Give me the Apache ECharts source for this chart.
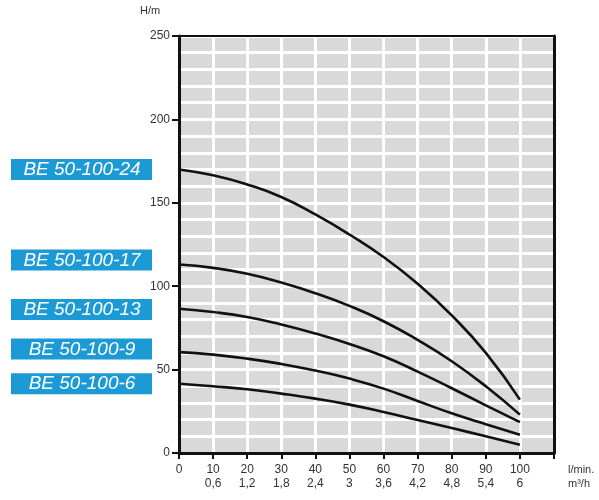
<!DOCTYPE html>
<html>
<head>
<meta charset="utf-8">
<script src="https://cdn.jsdelivr.net/npm/echarts@6/dist/echarts.min.js"></script>
<style>html,body{margin:0;padding:0;background:#fff}#c{width:599px;height:500px}</style>
</head>
<body>
<div id="c"></div>
<script>
const flowLmin = [0, 10, 20, 30, 40, 50, 60, 70, 80, 90, 100];
const flowM3h = ['', '0,6', '1,2', '1,8', '2,4', '3', '3,6', '4,2', '4,8', '5,4', '6'];
const seriesNames = ['BE 50-100-24', 'BE 50-100-17', 'BE 50-100-13', 'BE 50-100-9', 'BE 50-100-6'];
const head24 = [170, 166.5, 161, 153.5, 143, 131, 117.5, 101.5, 82.5, 60, 32];
const head17 = [113, 111, 107.5, 102.2, 95.8, 88.2, 79, 67.8, 55, 40, 23];
const head13 = [86.5, 84.5, 81.5, 77, 71.6, 65.4, 58, 48.8, 38.8, 28.6, 18.5];
const head9 = [60.5, 59, 56.6, 53.4, 49.4, 44.6, 38.6, 31.2, 23.8, 17.2, 11];
const head6 = [41.5, 40, 38.2, 35.6, 32.6, 29.0, 24.6, 19.8, 15, 10, 5];
const allHeads = [head24, head17, head13, head9, head6];

const labelCentersY = [169.5, 260, 309.5, 349, 383.7];

const chart = echarts.init(document.getElementById('c'), null, {renderer: 'canvas'});

const graphics = seriesNames.map((n, i) => ({
  type: 'group',
  left: 11,
  top: labelCentersY[i] - 10.5,
  children: [
    {type: 'rect', shape: {x: 0, y: 0, width: 141, height: 21}, style: {fill: '#1b9ad6'}},
    {type: 'text', x: 71, y: 11, style: {text: n, fill: '#fff', font: 'italic 19px "Liberation Sans", Arial, sans-serif', textAlign: 'center', textVerticalAlign: 'middle'}}
  ]
}));
graphics.push(
  {type: 'text', left: 140, top: 5, style: {text: 'H/m', fill: '#333', font: '11px "Liberation Sans", Arial, sans-serif'}},
  {type: 'text', left: 568, top: 464, style: {text: 'l/min.', fill: '#333', font: '11px "Liberation Sans", Arial, sans-serif'}},
  {type: 'text', left: 568, top: 478, style: {text: 'm³/h', fill: '#333', font: '11px "Liberation Sans", Arial, sans-serif'}}
);

const fontFam = '"Liberation Sans", Arial, sans-serif';

chart.setOption({
  animation: false,
  grid: {left: 179, right: 45, top: 36, bottom: 47, show: true, backgroundColor: '#d9d9d9', borderWidth: 0},
  xAxis: [{
    type: 'value', min: 0, max: 110, interval: 10,
    axisLine: {onZero: false, lineStyle: {color: '#111', width: 3}},
    axisTick: {show: true, length: 6, lineStyle: {color: '#111', width: 2}},
    splitLine: {show: true, lineStyle: {color: '#fff', width: 3}},
    axisLabel: {
      margin: 10,
      formatter: function (v) {
        if (v > 100) return '';
        return '{a|' + v + '}\n{b|' + flowM3h[v / 10] + '}';
      },
      rich: {
        a: {fontSize: 12, color: '#333', lineHeight: 14, fontFamily: fontFam},
        b: {fontSize: 12, color: '#333', lineHeight: 14, fontFamily: fontFam}
      }
    }
  }, {
    type: 'value', position: 'top', min: 0, max: 110, interval: 10,
    axisLine: {show: true, onZero: false, lineStyle: {color: '#111', width: 2}},
    axisTick: {show: false}, axisLabel: {show: false}, splitLine: {show: false}
  }],
  yAxis: [{
    type: 'value', min: 0, max: 250, interval: 50,
    axisLine: {show: true, onZero: false, lineStyle: {color: '#111', width: 3}},
    axisTick: {show: true, length: 7, lineStyle: {color: '#111', width: 2}},
    minorTick: {show: false, splitNumber: 5},
    splitLine: {show: true, lineStyle: {color: '#fff', width: 3}},
    minorSplitLine: {show: true, lineStyle: {color: '#fff', width: 3}},
    axisLabel: {margin: 9, fontSize: 12, color: '#333', fontFamily: fontFam}
  }, {
    type: 'value', position: 'right', min: 0, max: 250, interval: 50,
    axisLine: {show: true, onZero: false, lineStyle: {color: '#111', width: 3}},
    axisTick: {show: false}, axisLabel: {show: false}, splitLine: {show: false}
  }],
  series: allHeads.map((h, i) => ({
    name: seriesNames[i],
    type: 'line',
    smooth: 0.5,
    symbol: 'none',
    xAxisIndex: 0,
    yAxisIndex: 0,
    lineStyle: {color: '#111', width: 2.6},
    data: flowLmin.map((x, j) => [x, h[j]])
  })),
  graphic: graphics
});
</script>
</body>
</html>
